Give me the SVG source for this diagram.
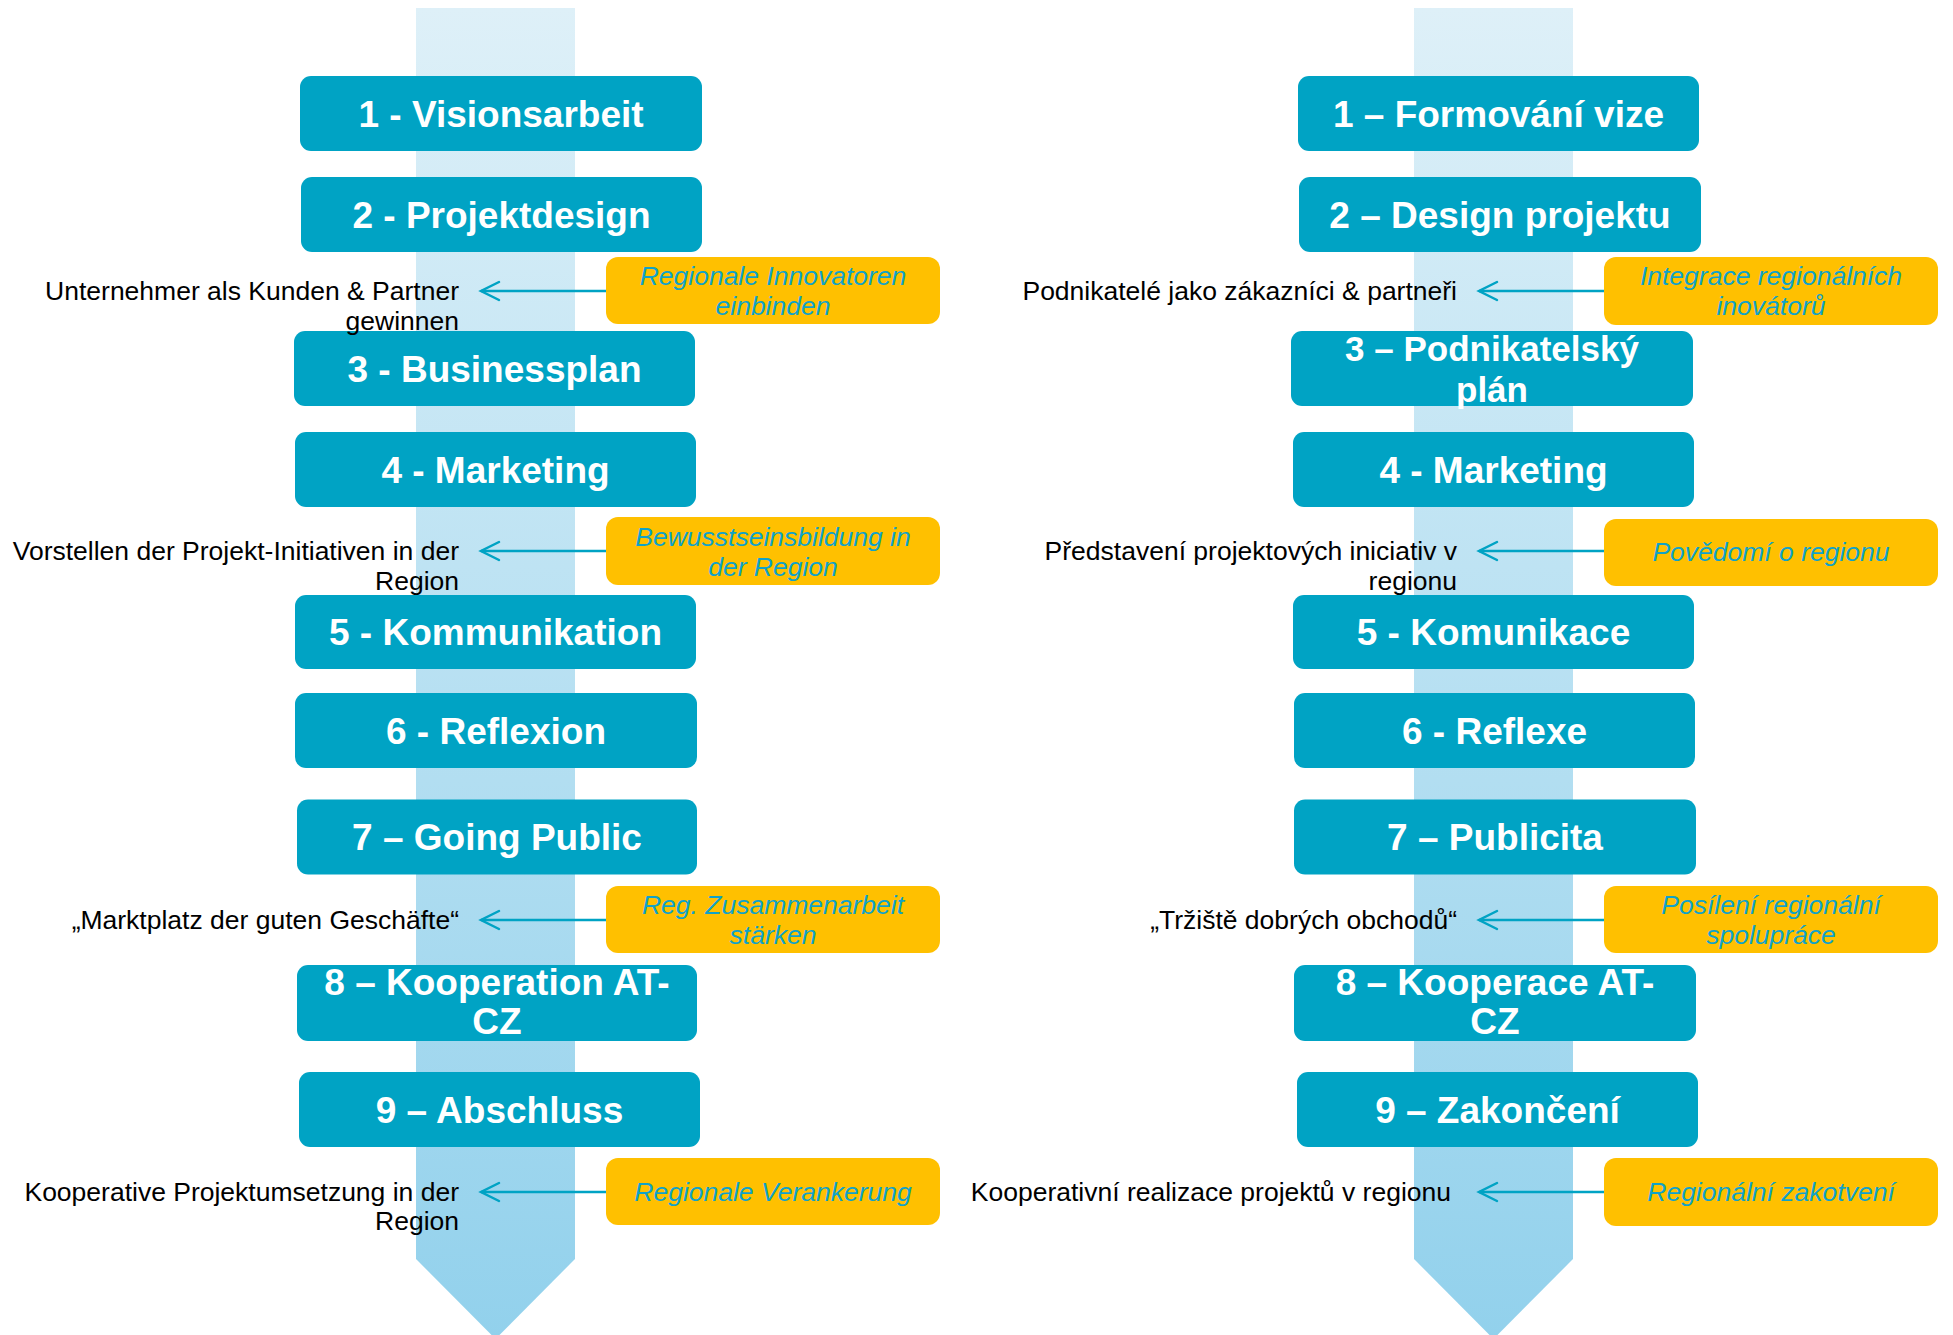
<svg xmlns="http://www.w3.org/2000/svg" width="1953" height="1335" viewBox="0 0 1953 1335">
<style>
.step{fill:#00A3C4}
.step-t{font-family:"Liberation Sans",Arial,sans-serif;font-weight:bold;font-size:37px;fill:#FFFFFF;text-anchor:middle}
.note{fill:#FFC000}
.note-t{font-family:"Liberation Sans",Arial,sans-serif;font-style:italic;font-size:26.5px;fill:#10A2C9;text-anchor:middle}
.lbl{font-family:"Liberation Sans",Arial,sans-serif;font-size:26.5px;fill:#000000;text-anchor:end}
.conn{stroke:#00A3C4;stroke-width:2.5;fill:none;marker-end:url(#arr)}
</style>
<defs>
<linearGradient id="band" gradientUnits="userSpaceOnUse" x1="0" y1="8" x2="0" y2="1339">
<stop offset="0" stop-color="#DEF0F8"/>
<stop offset="1" stop-color="#92D1EC"/>
</linearGradient>
<marker id="arr" markerUnits="userSpaceOnUse" markerWidth="40" markerHeight="40" viewBox="-30 -20 40 40" refX="0" refY="0" orient="auto" overflow="visible">
<path d="M-18,-9 L0,0 L-18,9" fill="none" stroke="#00A3C4" stroke-width="2.5" stroke-linecap="round" stroke-linejoin="miter"/>
</marker>
</defs>
<rect width="1953" height="1335" fill="#FFFFFF"/>
<g id="bands">
<polygon id="band-left" points="416,8 575,8 575,1259 495.5,1339 416,1259" fill="url(#band)"/>
<polygon id="band-right" points="1414,8 1573,8 1573,1259 1493.5,1339 1414,1259" fill="url(#band)"/>
</g>
<g id="connectors">
<line class="conn" x1="606" y1="291" x2="481" y2="291"/>
<line class="conn" x1="606" y1="551" x2="481" y2="551"/>
<line class="conn" x1="606" y1="920" x2="481" y2="920"/>
<line class="conn" x1="606" y1="1192" x2="481" y2="1192"/>
<line class="conn" x1="1604" y1="291" x2="1479" y2="291"/>
<line class="conn" x1="1604" y1="551" x2="1479" y2="551"/>
<line class="conn" x1="1604" y1="920" x2="1479" y2="920"/>
<line class="conn" x1="1604" y1="1192" x2="1479" y2="1192"/>
</g>
<g id="left-steps">
<g id="l1"><rect class="step" x="300" y="76" width="402" height="75" rx="11"/><text class="step-t" x="501" y="126.5">1 - Visionsarbeit</text></g>
<g id="l2"><rect class="step" x="301" y="177" width="401" height="75" rx="11"/><text class="step-t" x="501.5" y="227.5">2 - Projektdesign</text></g>
<g id="l3"><rect class="step" x="294" y="331" width="401" height="75" rx="11"/><text class="step-t" x="494.5" y="381.5">3 - Businessplan</text></g>
<g id="l4"><rect class="step" x="295" y="432" width="401" height="75" rx="11"/><text class="step-t" x="495.5" y="482.5">4 - Marketing</text></g>
<g id="l5"><rect class="step" x="295" y="595" width="401" height="74" rx="11"/><text class="step-t" x="495.5" y="645">5 - Kommunikation</text></g>
<g id="l6"><rect class="step" x="295" y="693" width="402" height="75" rx="11"/><text class="step-t" x="496" y="743.5">6 - Reflexion</text></g>
<g id="l7"><rect class="step" x="297" y="799.5" width="400" height="75" rx="11"/><text class="step-t" x="497" y="850">7 – Going Public</text></g>
<g id="l8"><rect class="step" x="297" y="965" width="400" height="76" rx="11"/><text class="step-t" x="497" y="995">8 – Kooperation AT-</text><text class="step-t" x="497" y="1034">CZ</text></g>
<g id="l9"><rect class="step" x="299" y="1072" width="401" height="75" rx="11"/><text class="step-t" x="499.5" y="1122.5">9 – Abschluss</text></g>
</g>
<g id="left-notes">
<g id="ln1"><rect class="note" x="606" y="257" width="334" height="67" rx="12"/><text class="note-t" x="773" y="285">Regionale Innovatoren</text><text class="note-t" x="773" y="315">einbinden</text></g>
<g id="ln2"><rect class="note" x="606" y="517" width="334" height="68" rx="12"/><text class="note-t" x="773" y="545.5">Bewusstseinsbildung in</text><text class="note-t" x="773" y="575.5">der Region</text></g>
<g id="ln3"><rect class="note" x="606" y="886" width="334" height="67" rx="12"/><text class="note-t" x="773" y="914">Reg. Zusammenarbeit</text><text class="note-t" x="773" y="944">stärken</text></g>
<g id="ln4"><rect class="note" x="606" y="1158" width="334" height="67" rx="12"/><text class="note-t" x="773" y="1201">Regionale Verankerung</text></g>
</g>
<g id="left-labels">
<text class="lbl" x="459" y="300">Unternehmer als Kunden &amp; Partner</text>
<text class="lbl" x="459" y="329.5">gewinnen</text>
<text class="lbl" x="459" y="560">Vorstellen der Projekt-Initiativen in der</text>
<text class="lbl" x="459" y="589.5">Region</text>
<text class="lbl" x="459" y="928.5">„Marktplatz der guten Geschäfte“</text>
<text class="lbl" x="459" y="1201">Kooperative Projektumsetzung in der</text>
<text class="lbl" x="459" y="1230">Region</text>
</g>
<g id="right-steps">
<g id="r1"><rect class="step" x="1298" y="76" width="401" height="75" rx="11"/><text class="step-t" x="1498.5" y="126.5">1 – Formování vize</text></g>
<g id="r2"><rect class="step" x="1299" y="177" width="402" height="75" rx="11"/><text class="step-t" x="1500" y="227.5">2 – Design projektu</text></g>
<g id="r3"><rect class="step" x="1291" y="331" width="402" height="75" rx="11"/><text class="step-t" x="1492" y="361" style="font-size:35px">3 – Podnikatelský</text><text class="step-t" x="1492" y="401.5" style="font-size:35px">plán</text></g>
<g id="r4"><rect class="step" x="1293" y="432" width="401" height="75" rx="11"/><text class="step-t" x="1493.5" y="482.5">4 - Marketing</text></g>
<g id="r5"><rect class="step" x="1293" y="595" width="401" height="74" rx="11"/><text class="step-t" x="1493.5" y="645">5 - Komunikace</text></g>
<g id="r6"><rect class="step" x="1294" y="693" width="401" height="75" rx="11"/><text class="step-t" x="1494.5" y="743.5">6 - Reflexe</text></g>
<g id="r7"><rect class="step" x="1294" y="799.5" width="402" height="75" rx="11"/><text class="step-t" x="1495" y="850">7 – Publicita</text></g>
<g id="r8"><rect class="step" x="1294" y="965" width="402" height="76" rx="11"/><text class="step-t" x="1495" y="995">8 – Kooperace AT-</text><text class="step-t" x="1495" y="1034">CZ</text></g>
<g id="r9"><rect class="step" x="1297" y="1072" width="401" height="75" rx="11"/><text class="step-t" x="1497.5" y="1122.5">9 – Zakončení</text></g>
</g>
<g id="right-notes">
<g id="rn1"><rect class="note" x="1604" y="257" width="334" height="68" rx="12"/><text class="note-t" x="1771" y="285">Integrace regionálních</text><text class="note-t" x="1771" y="315">inovátorů</text></g>
<g id="rn2"><rect class="note" x="1604" y="519" width="334" height="67" rx="12"/><text class="note-t" x="1771" y="561">Povědomí o regionu</text></g>
<g id="rn3"><rect class="note" x="1604" y="886" width="334" height="67" rx="12"/><text class="note-t" x="1771" y="914">Posílení regionální</text><text class="note-t" x="1771" y="944">spolupráce</text></g>
<g id="rn4"><rect class="note" x="1604" y="1158" width="334" height="68" rx="12"/><text class="note-t" x="1771" y="1201">Regionální zakotvení</text></g>
</g>
<g id="right-labels">
<text class="lbl" x="1457" y="300">Podnikatelé jako zákazníci &amp; partneři</text>
<text class="lbl" x="1457" y="560">Představení projektových iniciativ v</text>
<text class="lbl" x="1457" y="589.5">regionu</text>
<text class="lbl" x="1457" y="928.5">„Tržiště dobrých obchodů“</text>
<text class="lbl" x="1451" y="1201">Kooperativní realizace projektů v regionu</text>
</g>
</svg>
